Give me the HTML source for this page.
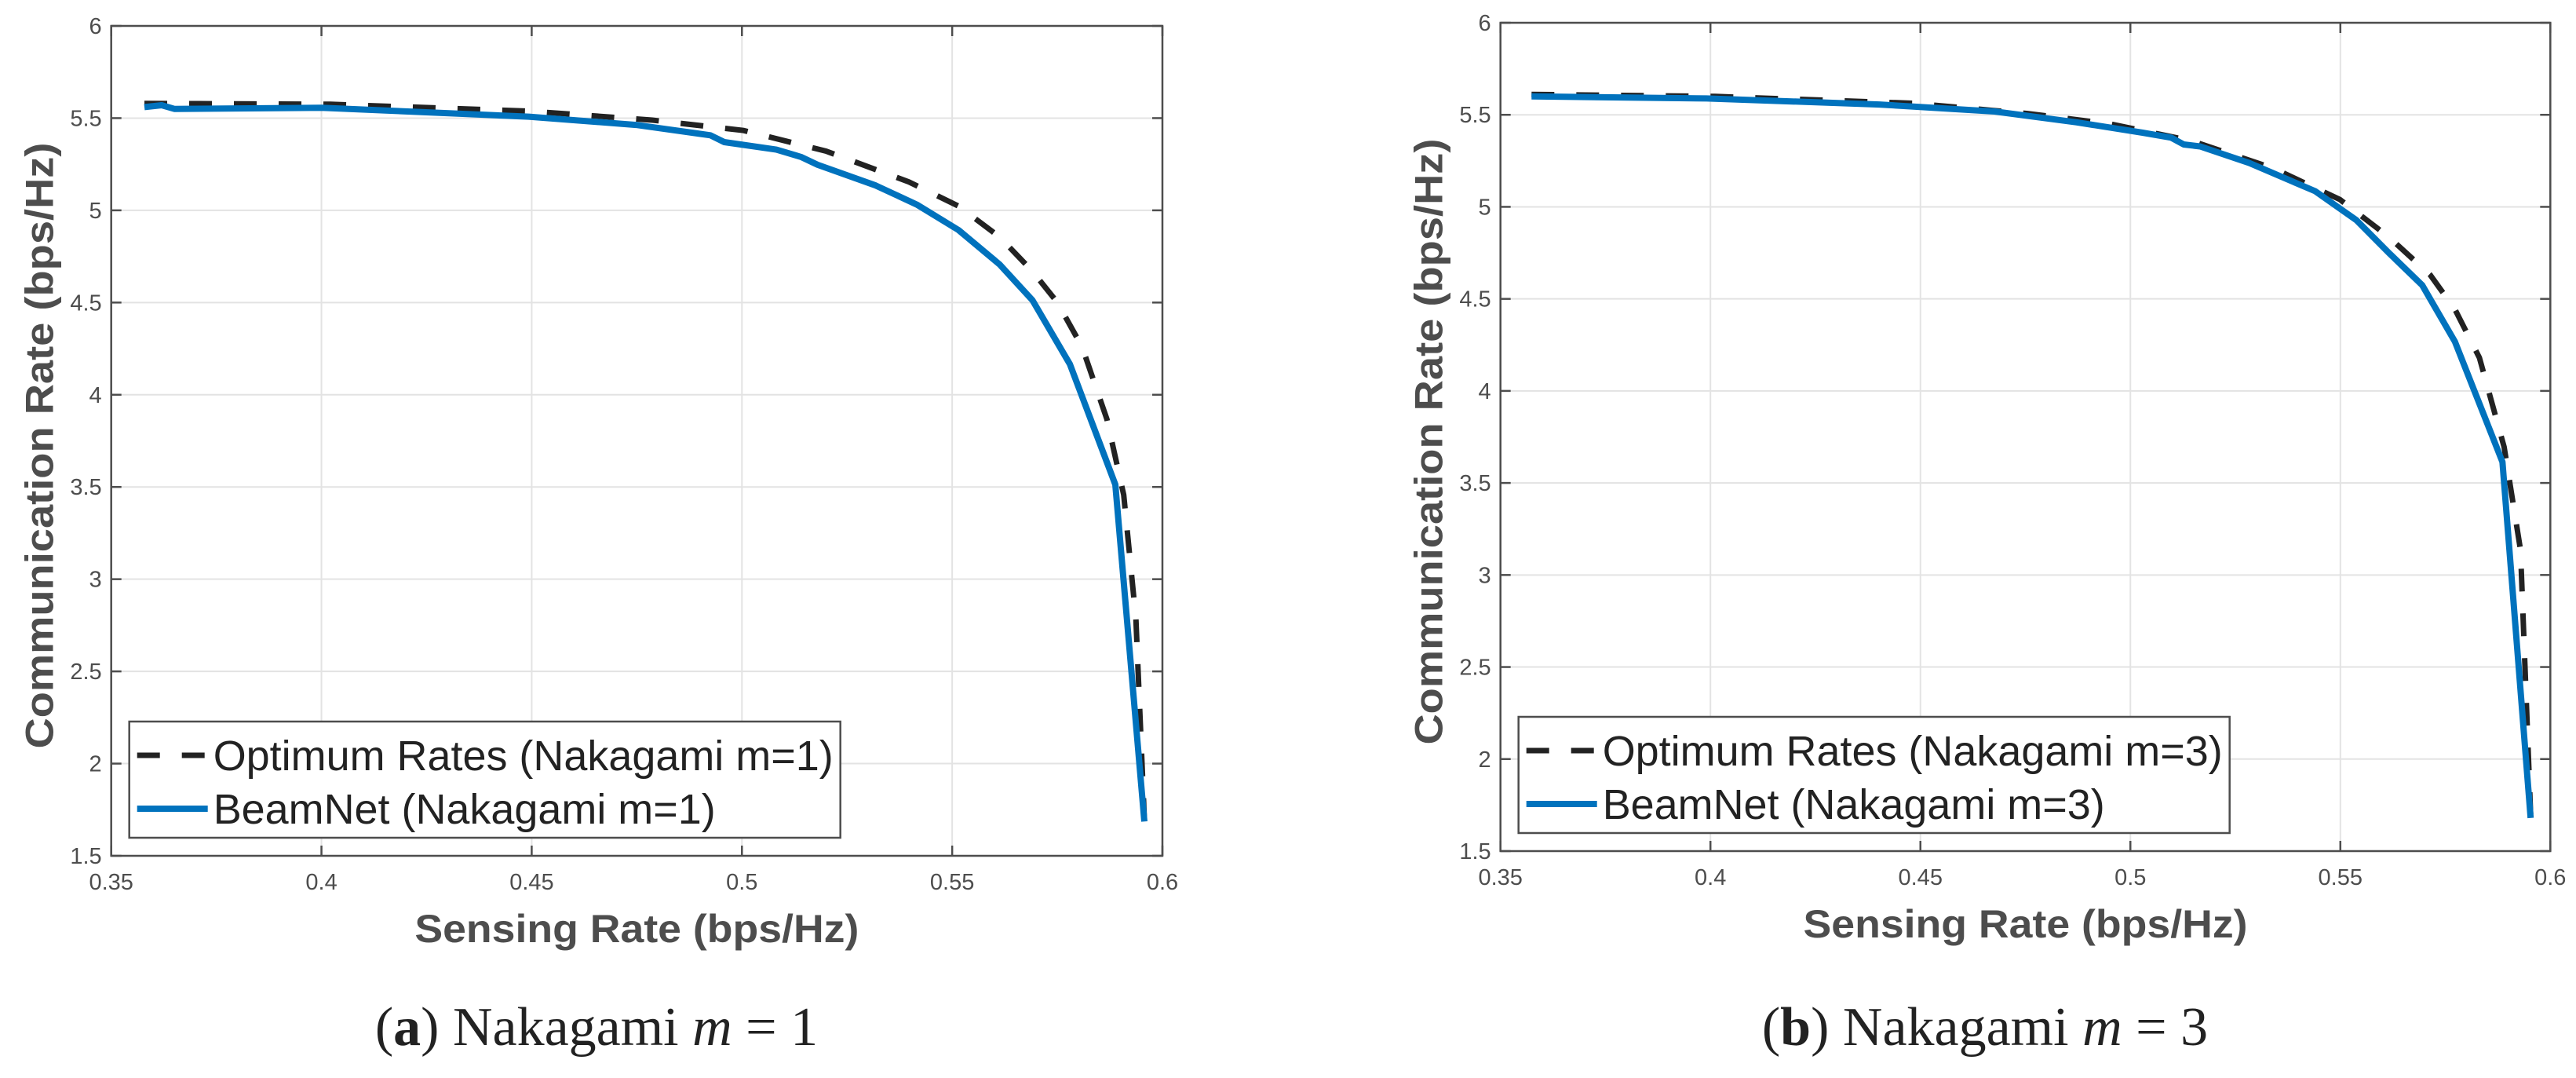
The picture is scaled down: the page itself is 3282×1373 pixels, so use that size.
<!DOCTYPE html>
<html><head><meta charset="utf-8"><style>
html,body{margin:0;padding:0;background:#fff;}
svg{display:block;}
</style></head><body>
<svg id="fig" width="3282" height="1373" viewBox="0 0 3282 1373" xmlns="http://www.w3.org/2000/svg"></svg>
<script>
const xTicks = [0.35, 0.4, 0.45, 0.5, 0.55, 0.6];
const xTickLabels = ["0.35", "0.4", "0.45", "0.5", "0.55", "0.6"];
const yTicks = [1.5, 2, 2.5, 3, 3.5, 4, 4.5, 5, 5.5, 6];
const yTickLabels = ["1.5", "2", "2.5", "3", "3.5", "4", "4.5", "5", "5.5", "6"];

const optA_x = [0.3579,0.4021,0.4493,0.4787,0.5004,0.52,0.5397,0.5515,0.5613,0.5691,0.575,0.5809,0.5868,0.5908,0.5937,0.5957];
const optA_y = [5.58,5.575,5.538,5.489,5.433,5.321,5.154,5.023,4.855,4.669,4.501,4.259,3.867,3.457,2.786,1.70];
const beamA_x = [0.3579,0.362,0.365,0.40,0.4493,0.4748,0.4925,0.4958,0.5082,0.514,0.518,0.5318,0.5416,0.5515,0.5613,0.5691,0.578,0.5888,0.5957];
const beamA_y = [5.56,5.57,5.55,5.556,5.508,5.463,5.407,5.37,5.329,5.29,5.247,5.135,5.031,4.893,4.706,4.512,4.166,3.513,1.686];

const optB_x = [0.3574,0.4011,0.4481,0.4755,0.4951,0.5146,0.5342,0.5499,0.5616,0.5714,0.5773,0.5831,0.589,0.5929,0.5953];
const optB_y = [5.611,5.60,5.563,5.507,5.451,5.358,5.208,5.04,4.835,4.63,4.443,4.181,3.696,3.136,1.70];
const beamB_x = [0.3574,0.3991,0.4402,0.4677,0.4872,0.5029,0.5097,0.5127,0.5166,0.5283,0.544,0.5538,0.5616,0.5695,0.5773,0.5886,0.5953];
const beamB_y = [5.60,5.589,5.556,5.518,5.459,5.403,5.376,5.339,5.328,5.238,5.085,4.928,4.749,4.574,4.267,3.614,1.68];

const NS = "http://www.w3.org/2000/svg";
const svg = document.getElementById("fig");
function mk(tag, attrs, parent, text){
  const e = document.createElementNS(NS, tag);
  for (const k in attrs) e.setAttribute(k, attrs[k]);
  if (text !== undefined) e.textContent = text;
  (parent || svg).appendChild(e);
  return e;
}

function drawChart(cfg){
  const g = mk("g", {});
  
  
  const L=cfg.L, R=cfg.R, T=cfg.T, B=cfg.B;
  const sx = v => L + (v - 0.35) / 0.25 * (R - L);
  const sy = v => B - (v - 1.5) / 4.5 * (B - T);
  // grid
  xTicks.forEach((t,i)=>{
    const ln = mk("line", {x1:sx(t),x2:sx(t),y1:T,y2:B,stroke:"#e3e3e3","stroke-width":2}, g);
    
    
  });
  yTicks.forEach((t,i)=>{
    const ln = mk("line", {x1:L,x2:R,y1:sy(t),y2:sy(t),stroke:"#e3e3e3","stroke-width":2}, g);
    
    
  });
  // series
  function path(xs, ys){ return xs.map((x,i)=>(i?"L":"M")+sx(x).toFixed(1)+" "+sy(ys[i]).toFixed(1)).join(" "); }
  const opt = mk("path", {d:path(cfg.ox,cfg.oy),fill:"none",stroke:"#222","stroke-width":7,"stroke-dasharray":"29 28"}, g);
  
  
  const bm = mk("path", {d:path(cfg.bx,cfg.by),fill:"none",stroke:"#0072BD","stroke-width":8,"stroke-linejoin":"round"}, g);
  
  
  // axes box
  const box = mk("rect", {x:L,y:T,width:R-L,height:B-T,fill:"none",stroke:"#4d4d4d","stroke-width":2.5}, g);
  
  
  // ticks + labels
  xTicks.forEach((t,i)=>{
    mk("line",{x1:sx(t),x2:sx(t),y1:B,y2:B-13,stroke:"#4d4d4d","stroke-width":2.5},g);
    mk("line",{x1:sx(t),x2:sx(t),y1:T,y2:T+13,stroke:"#4d4d4d","stroke-width":2.5},g);
    const tx = mk("text",{x:sx(t),y:B+43,"text-anchor":"middle","font-family":"Liberation Sans, sans-serif","font-size":29,fill:"#4d4d4d"},g,xTickLabels[i]);
    
    
  });
  yTicks.forEach((t,i)=>{
    mk("line",{x1:L,x2:L+13,y1:sy(t),y2:sy(t),stroke:"#4d4d4d","stroke-width":2.5},g);
    mk("line",{x1:R,x2:R-13,y1:sy(t),y2:sy(t),stroke:"#4d4d4d","stroke-width":2.5},g);
    const tx = mk("text",{x:L-12,y:sy(t)+10,"text-anchor":"end","font-family":"Liberation Sans, sans-serif","font-size":29,fill:"#4d4d4d"},g,yTickLabels[i]);
    
    
  });
  // axis titles
  const xt = mk("text",{x:(L+R)/2,y:B+110,"text-anchor":"middle","font-family":"Liberation Sans, sans-serif","font-weight":"bold","font-size":50,fill:"#4d4d4d",textLength:566,lengthAdjust:"spacingAndGlyphs"},g,"Sensing Rate (bps/Hz)");
  
  
  const ycx = L-92, ycy = (T+B)/2 + 6;
  const yt = mk("text",{x:ycx,y:ycy,"text-anchor":"middle","font-family":"Liberation Sans, sans-serif","font-weight":"bold","font-size":50,fill:"#4d4d4d",transform:`rotate(-90 ${ycx} ${ycy})`,dy:18,textLength:772,lengthAdjust:"spacingAndGlyphs"},g,"Communication Rate (bps/Hz)");
  
  
  // legend
  const lx = L+23, ly = cfg.legT, lw = 906, lh = 148;
  const lg = mk("g",{},g);
  
  
  mk("rect",{x:lx,y:ly,width:lw,height:lh,fill:"#fff",stroke:"#4d4d4d","stroke-width":2.5},lg);
  mk("line",{x1:lx+10,x2:lx+100,y1:ly+43,y2:ly+43,stroke:"#222","stroke-width":7,"stroke-dasharray":"29 28"},lg);
  const e1 = mk("text",{x:lx+107,y:ly+62,"font-family":"Liberation Sans, sans-serif","font-size":54,fill:"#222",textLength:790,lengthAdjust:"spacingAndGlyphs"},lg,cfg.leg1);
  
  
  mk("line",{x1:lx+10,x2:lx+100,y1:ly+111,y2:ly+111,stroke:"#0072BD","stroke-width":8},lg);
  const e2 = mk("text",{x:lx+107,y:ly+130,"font-family":"Liberation Sans, sans-serif","font-size":54,fill:"#222",textLength:640,lengthAdjust:"spacingAndGlyphs"},lg,cfg.leg2);
  
  
  // caption
  const cap = mk("text",{x:cfg.capX,y:1331,"text-anchor":"middle","font-family":"Liberation Serif, serif","font-size":70,fill:"#222"},g);
  
  
  mk("tspan",{},cap,"(");
  mk("tspan",{"font-weight":"bold"},cap,cfg.letter);
  mk("tspan",{},cap,") Nakagami ");
  mk("tspan",{"font-style":"italic"},cap,"m");
  mk("tspan",{},cap," = "+cfg.m);
}

drawChart({name:"chart-nakagami-m1",L:141.7,R:1481,T:33,B:1090,ox:optA_x,oy:optA_y,bx:beamA_x,by:beamA_y,legT:919,
  leg1:"Optimum Rates (Nakagami m=1)",leg2:"BeamNet (Nakagami m=1)",capX:760,letter:"a",m:"1"});
drawChart({name:"chart-nakagami-m3",L:1911.7,R:3249.3,T:29,B:1084,ox:optB_x,oy:optB_y,bx:beamB_x,by:beamB_y,legT:913,
  leg1:"Optimum Rates (Nakagami m=3)",leg2:"BeamNet (Nakagami m=3)",capX:2529,letter:"b",m:"3"});
</script>
</body></html>
